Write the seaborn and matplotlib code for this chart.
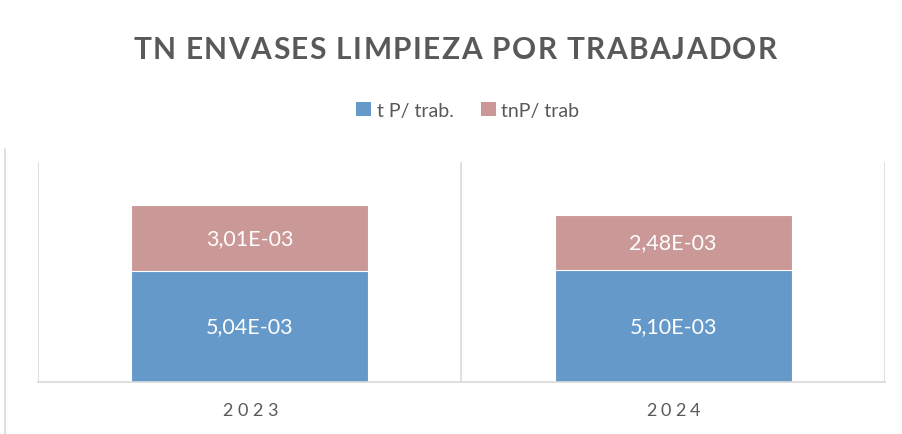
import matplotlib
matplotlib.use("Agg")
import matplotlib.pyplot as plt
from matplotlib.patches import Patch
from matplotlib.lines import Line2D
import seaborn as sns
import pandas as pd

# Data
years = ["2023", "2024"]
t_p_trab = [5.04e-3, 5.10e-3]
tn_p_trab = [3.01e-3, 2.48e-3]
series_names = ["t P/ trab.", "tnP/ trab"]
title = "TN ENVASES LIMPIEZA POR TRABAJADOR"

BLUE = "#6599CA"
PINK = "#CA9896"
GREY_TXT = "#595959"
GRID = "#D9D9D9"
FONT = "Lato"

sns.set_theme(style="white")
plt.rcParams["font.family"] = [FONT, "DejaVu Sans"]

df = pd.DataFrame({"year": years, "blue": t_p_trab, "pink": tn_p_trab})
df["total"] = df["blue"] + df["pink"]

W, H = 902, 435
fig = plt.figure(figsize=(W / 100, H / 100), dpi=100)
ax = fig.add_axes([38 / W, (H - 383) / H, (885 - 38) / W, (383 - 163) / H])

# stacked bars: full height in pink, lower segment in blue on top of it
sns.barplot(data=df, x="year", y="total", color=PINK, width=0.56, ax=ax,
            edgecolor="white", linewidth=0.8, saturation=1)
sns.barplot(data=df, x="year", y="blue", color=BLUE, width=0.56, ax=ax,
            edgecolor="white", linewidth=0.8, saturation=1)

ax.set_xlim(-0.5, len(years) - 0.5)
ax.set_ylim(0, 0.0100)
ax.set_xlabel("")
ax.set_ylabel("")
ax.set_yticks([])
ax.set_xticks(range(len(years)))
ax.set_xticklabels([])
ax.tick_params(axis="x", length=0)
for s in ["top", "right", "left"]:
    ax.spines[s].set_visible(False)
ax.spines["bottom"].set_color(GRID)
ax.spines["bottom"].set_linewidth(1.2)

# category separators
for xs in [i - 0.5 for i in range(len(years) + 1)]:
    ax.axvline(xs, color=GRID, linewidth=1.2, zorder=0)


def fmt(v):
    mant, exp = f"{v:.2E}".split("E")
    return f"{mant.replace('.', ',')}E{exp}"


# value labels
for i, (b, p) in enumerate(zip(t_p_trab, tn_p_trab)):
    ax.text(i, b / 2, fmt(b), ha="center", va="center", color="white",
            fontsize=15.5, family=FONT)
    ax.text(i, b + p / 2, fmt(p), ha="center", va="center", color="white",
            fontsize=15.5, family=FONT)

renderer = fig.canvas.get_renderer()


def text_width(s, **kw):
    t = fig.text(0, 0, s, **kw)
    w = t.get_window_extent(renderer).width
    t.remove()
    return w


def spaced_text(s, cx, cy, total_width, **kw):
    """Draw s centred at pixel (cx, cy) with letter tracking to span total_width."""
    ref = text_width("x", **kw)
    natural = text_width(s, **kw)
    track = (total_width - natural) / max(len(s) - 1, 1)
    left = cx - total_width / 2
    for i, ch in enumerate(s):
        if ch == " ":
            continue
        off = text_width(s[:i] + "x", **kw) - ref if i else 0
        fig.text((left + off + i * track) / W, 1 - cy / H, ch,
                 ha="left", va="center", **kw)


spaced_text(title, 455, 50, 644, fontsize=21.5, fontweight="bold",
            color=GREY_TXT, family=FONT)

# category labels
for i, yr in enumerate(years):
    px = ax.transData.transform((i, 0))[0]
    spaced_text(yr, px, 411, 55, fontsize=13, color=GREY_TXT, family=FONT)

handles = [Patch(facecolor=BLUE, edgecolor="none"),
           Patch(facecolor=PINK, edgecolor="none")]
fig.legend(handles, series_names, loc="center", bbox_to_anchor=(468 / W, 1 - 111 / H),
           ncol=2, frameon=False, fontsize=14, handlelength=0.75, handleheight=0.75,
           handletextpad=0.3, columnspacing=1.4, labelcolor=GREY_TXT)

# outer frame edge on the left
fig.add_artist(Line2D([5 / W, 5 / W], [0, 1 - 150 / H], transform=fig.transFigure,
                      color=GRID, linewidth=1.2))

fig.savefig("out.png", dpi=100)
